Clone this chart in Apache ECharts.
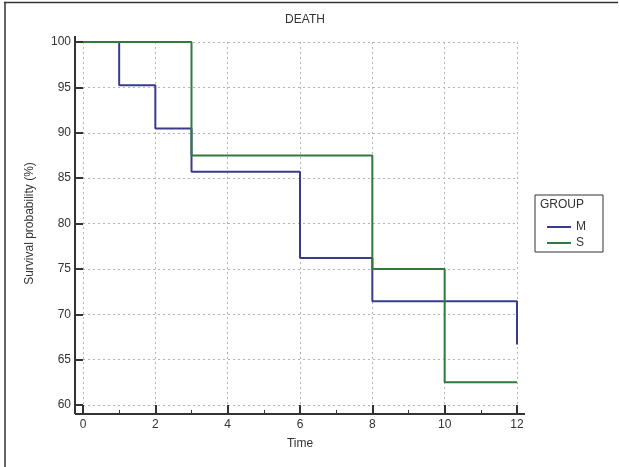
<!DOCTYPE html>
<html>
<head>
<meta charset="utf-8">
<script src="https://cdn.jsdelivr.net/npm/echarts@6/dist/echarts.min.js"></script>
<style>
html,body{margin:0;padding:0;background:#fff;}
#chart{width:619px;height:467px;}
</style>
</head>
<body>
<div id="chart"></div>
<script>
// Data (Kaplan-Meier survival steps)
const timeM = [0, 1, 2, 3, 6, 8, 12];
const survM = [100, 95.24, 90.48, 85.71, 76.19, 71.43, 66.67];
const timeS = [0, 3, 8, 10, 12];
const survS = [100, 87.5, 75, 62.5, 62.5];
const groupNames = ['M', 'S'];
const colorM = '#3b3b8c';
const colorS = '#2f7a3c';

const chart = echarts.init(document.getElementById('chart'), null, {renderer: 'canvas'});
const font = 'Liberation Sans, Arial, sans-serif';

const option = {
  backgroundColor: '#fff',
  animation: false,
  title: {
    text: 'DEATH', left: 300, top: 9, textAlign: 'center',
    textStyle: {fontSize: 12, fontWeight: 'normal', color: '#333', fontFamily: font}
  },
  grid: {left: 83, right: 102, top: 42, bottom: 62, containLabel: false},
  xAxis: {
    type: 'value', min: 0, max: 12, interval: 2,
    offset: 9,
    name: 'Time', nameLocation: 'middle', nameGap: 24,
    nameTextStyle: {fontSize: 12, color: '#333', fontFamily: font},
    axisLine: {show: false},
    axisTick: {show: true, inside: true, length: 9, lineStyle: {color: '#333', width: 2}},
    minorTick: {show: true, splitNumber: 2, length: 4, lineStyle: {color: '#333', width: 1}},
    axisLabel: {fontSize: 12, color: '#333', margin: 5, fontFamily: font},
    splitLine: {show: true, lineStyle: {color: '#b4b4b4', type: [2, 3], width: 1}}
  },
  yAxis: {
    type: 'value', min: 60, max: 100, interval: 5,
    name: 'Survival probability (%)', nameLocation: 'middle', nameGap: 47,
    nameTextStyle: {fontSize: 12, color: '#333', fontFamily: font},
    axisLine: {show: false},
    axisTick: {show: true, inside: false, length: 8, lineStyle: {color: '#333', width: 2}},
    axisLabel: {fontSize: 12, color: '#333', margin: 12, fontFamily: font},
    splitLine: {show: true, lineStyle: {color: '#b4b4b4', type: [2, 3], width: 1}}
  },
  legend: {
    orient: 'vertical', left: 542, top: 216,
    itemWidth: 24, itemHeight: 2, itemGap: 4,
    data: groupNames.map(n => ({name: n, icon: 'rect'})),
    textStyle: {fontSize: 12, color: '#333', fontFamily: font}
  },
  series: [
    {
      name: groupNames[0], type: 'line', step: 'end', showSymbol: false, symbol: 'none',
      data: timeM.map((t, i) => [t, survM[i]]),
      lineStyle: {color: colorM, width: 2}, itemStyle: {color: colorM}, z: 3
    },
    {
      name: groupNames[1], type: 'line', step: 'end', showSymbol: false, symbol: 'none',
      data: timeS.map((t, i) => [t, survS[i]]),
      lineStyle: {color: colorS, width: 2}, itemStyle: {color: colorS}, z: 4
    }
  ]
};
chart.setOption(option);

// Axis lines (offset from the plot area, joined at the corner), legend box, frame
const p0 = chart.convertToPixel({gridIndex: 0}, [0, 60]);
const p1 = chart.convertToPixel({gridIndex: 0}, [12, 100]);
const ax = p0[0] - 8, ay = p0[1] + 9;
chart.setOption({
  graphic: [
    {type: 'line', shape: {x1: ax, y1: p1[1] - 6, x2: ax, y2: ay}, style: {stroke: '#333', lineWidth: 2}, z: 10},
    {type: 'line', shape: {x1: ax, y1: ay, x2: p1[0] + 8, y2: ay}, style: {stroke: '#333', lineWidth: 2}, z: 10},
    {type: 'rect', shape: {x: 535, y: 195, width: 68, height: 57}, style: {fill: 'none', stroke: '#333', lineWidth: 1}, z: 10},
    {type: 'text', x: 540, y: 199, style: {text: 'GROUP', fontSize: 12, fill: '#333', fontFamily: font}, z: 10},
    {type: 'line', shape: {x1: 4, y1: 2.5, x2: 618, y2: 2.5}, style: {stroke: '#333', lineWidth: 1.5}},
    {type: 'line', shape: {x1: 5, y1: 2, x2: 5, y2: 467}, style: {stroke: '#333', lineWidth: 1.5}}
  ]
});
</script>
</body>
</html>
